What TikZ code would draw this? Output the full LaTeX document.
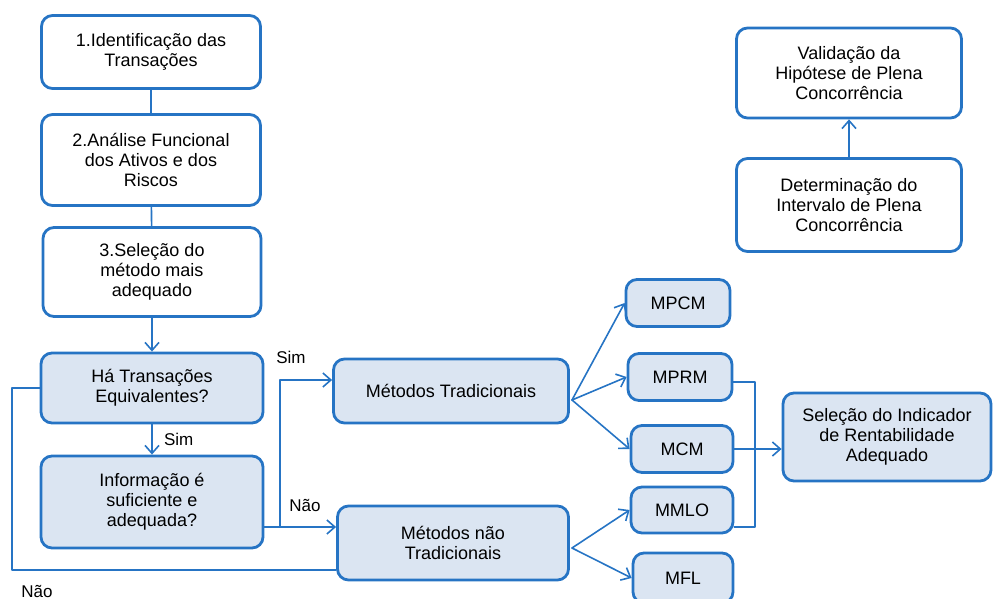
\documentclass[tikz,border=0pt]{standalone}
\usepackage{fontspec}
\setmainfont{Liberation Sans}
\usetikzlibrary{arrows.meta}
\definecolor{boxblue}{RGB}{38,116,196}
\definecolor{boxfill}{RGB}{219,229,242}
\begin{document}
\begin{tikzpicture}[line cap=round,line join=round,x=1pt,y=-1pt,
  >={Straight Barb[length=8pt,width=14pt]},
  box/.style={draw=boxblue,line width=2.8pt,rounded corners=11pt,fill=white,
    align=center,inner sep=2pt,font=\fontsize{18}{20}\selectfont},
  qbox/.style={box,fill=boxfill},
  link/.style={draw=boxblue,line width=1.6pt},
  lbl/.style={font=\fontsize{17}{19}\selectfont}]
\useasboundingbox (0,0) rectangle (994,599);
% left column
\node[box,minimum width=219pt,minimum height=73pt] (ident) at (151,52) {1.Identificação das\\Transações};
\node[box,minimum width=219pt,minimum height=91pt] (analise) at (151,160) {2.Análise Funcional\\dos Ativos e dos\\Riscos};
\node[box,minimum width=218pt,minimum height=89pt] (selec) at (152,272) {3.Seleção do\\método mais\\adequado};
\node[qbox,minimum width=222pt,minimum height=70pt] (ha) at (152,388) {Há Transações\\Equivalentes?};
\node[qbox,minimum width=222pt,minimum height=92pt] (info) at (152,502) {Informação é\\suficiente e\\adequada?};
% methods
\node[qbox,minimum width=235pt,minimum height=64pt] (trad) at (451,391) {Métodos Tradicionais};
\node[qbox,minimum width=231pt,minimum height=74pt] (naotrad) at (453,543) {Métodos não\\Tradicionais};
\node[qbox,minimum width=104pt,minimum height=47pt] (mpcm) at (678,303) {MPCM};
\node[qbox,minimum width=104pt,minimum height=47pt] (mprm) at (680,377) {MPRM};
\node[qbox,minimum width=102pt,minimum height=47pt] (mcm) at (682,449) {MCM};
\node[qbox,minimum width=102pt,minimum height=46pt] (mmlo) at (682,510) {MMLO};
\node[qbox,minimum width=100pt,minimum height=50pt] (mfl) at (683,578) {MFL};
\node[qbox,minimum width=208pt,minimum height=88pt] (selind) at (887,437) {Seleção do Indicador\\de Rentabilidade\\Adequado};
% top right
\node[box,minimum width=225pt,minimum height=90pt] (valid) at (849,73) {Validação da\\Hipótese de Plena\\Concorrência};
\node[box,minimum width=225pt,minimum height=93pt] (determ) at (849,205) {Determinação do\\Intervalo de Plena\\Concorrência};
% connectors
\draw[link] (ident) -- (analise);
\draw[link] (analise) -- (selec);
\draw[link,->] (selec) -- (ha);
\draw[link,->] (ha) -- node[lbl,right=8pt]{Sim} (info);
\draw[link] (ha.west) -| (12,570) -- (naotrad.west |- 0,570);
\node[lbl] (nao1) at (37,591) {Não};
\draw[link,->] ([yshift=-25pt]info.east) -- (naotrad.west |- 0,527);
\draw[link,->] (280,527) |- (trad.west |- 0,380);
\node[lbl] (sim2) at (291,357) {Sim};
\node[lbl] (nao2) at (305,505) {Não};
\coordinate (tout) at (572,400);
\draw[link,->] (tout) -- (mpcm.west);
\draw[link,->] (tout) -- (mprm.west);
\draw[link,->] (tout) -- (mcm.west);
\coordinate (nout) at (572,548);
\draw[link,->] (nout) -- (mmlo.west);
\draw[link,->] (nout) -- (mfl.west);
\draw[link] (mprm.east |- 0,382) -| (755,527) -- (mmlo.east |- 0,527);
\draw[link,->] (mcm.east) -- (selind.west |- mcm.east);
\draw[link,->] (determ) -- (valid);
\end{tikzpicture}
\end{document}
